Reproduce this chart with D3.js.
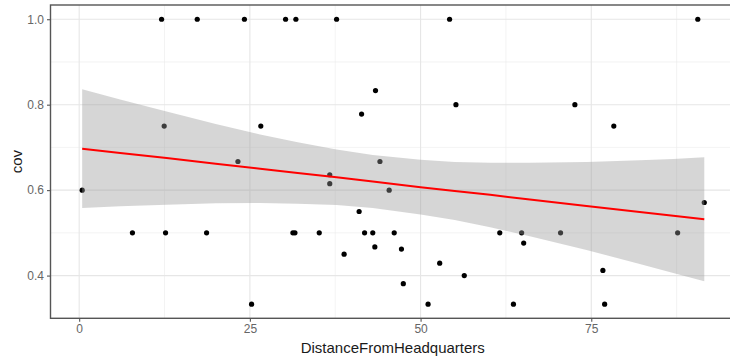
<!DOCTYPE html>
<html>
<head>
<meta charset="utf-8">
<script src="https://cdn.jsdelivr.net/npm/d3@7"></script>
<style>
  html, body { margin: 0; padding: 0; background: #fff; }
  svg { display: block; }
</style>
</head>
<body>
<svg id="chart" width="730" height="362"></svg>
<script>
// ---- data ----
const distance = [0.44, 7.8, 12.07, 12.45, 12.65, 17.29, 18.66, 23.25, 24.2, 25.25,
  26.6, 30.23, 31.3, 31.6, 31.74, 35.16, 36.7, 36.7, 37.7, 38.8,
  41.0, 41.36, 41.8, 43.0, 43.3, 43.4, 44.05, 45.4, 46.14, 47.2,
  47.47, 51.1, 52.8, 54.25, 55.18, 56.4, 61.6, 63.6, 64.8, 65.1,
  70.5, 72.6, 76.7, 76.96, 78.3, 87.65, 90.6, 91.55];
const cov = [0.6, 0.5, 1.0, 0.75, 0.5, 1.0, 0.5, 0.667, 1.0, 0.333,
  0.75, 1.0, 0.5, 0.5, 1.0, 0.5, 0.636, 0.615, 1.0, 0.45,
  0.55, 0.778, 0.5, 0.5, 0.467, 0.833, 0.667, 0.6, 0.5, 0.462,
  0.381, 0.333, 0.429, 1.0, 0.8, 0.4, 0.5, 0.333, 0.5, 0.476,
  0.5, 0.8, 0.412, 0.333, 0.75, 0.5, 1.0, 0.571];

// smoother (lm fit and confidence band)
const smoothX     = [0.44, 6, 12.8, 20, 26.5, 32, 37.7, 43, 50, 55, 60.2, 66, 74.3, 82.1, 87, 91.55];
const smoothFit   = [0.697, 0.687, 0.675, 0.662, 0.650, 0.640, 0.630, 0.620, 0.607, 0.598, 0.589, 0.578, 0.563, 0.549, 0.540, 0.532];
const smoothLower = [0.558, 0.562, 0.566, 0.569, 0.570, 0.568, 0.565, 0.558, 0.543, 0.530, 0.513, 0.492, 0.460, 0.427, 0.406, 0.387];
const smoothUpper = [0.836, 0.812, 0.784, 0.755, 0.730, 0.712, 0.695, 0.682, 0.671, 0.666, 0.664, 0.664, 0.666, 0.670, 0.673, 0.677];

const xTicks = [0, 25, 50, 75];
const xMinor = [12.5, 37.5, 62.5, 87.5];
const yTicks = [0.4, 0.6, 0.8, 1.0];
const yMinor = [0.3, 0.5, 0.7, 0.9];
const xLabel = "DistanceFromHeadquarters";
const yLabel = "cov";

// ---- layout ----
const panel = { left: 50.5, right: 735, top: 5, bottom: 318.3 };
const svg = d3.select("#chart");
const font = "'Liberation Sans', Arial, sans-serif";

const x = d3.scaleLinear().domain([-4.2, 96.05]).range([panel.left, panel.right]);
const y = d3.scaleLinear().domain([0.3, 1.0333]).range([panel.bottom, panel.top]);

// panel background
svg.append("rect")
  .attr("x", panel.left).attr("y", panel.top)
  .attr("width", panel.right - panel.left).attr("height", panel.bottom - panel.top)
  .attr("fill", "#fff");

const grid = svg.append("g");
// minor grid
grid.selectAll(".xm").data(xMinor).join("line")
  .attr("x1", d => x(d)).attr("x2", d => x(d))
  .attr("y1", panel.top).attr("y2", panel.bottom)
  .attr("stroke", "#ebebeb").attr("stroke-width", 0.6);
grid.selectAll(".ym").data(yMinor).join("line")
  .attr("y1", d => y(d)).attr("y2", d => y(d))
  .attr("x1", panel.left).attr("x2", panel.right)
  .attr("stroke", "#ebebeb").attr("stroke-width", 0.6);
// major grid
grid.selectAll(".xg").data(xTicks).join("line")
  .attr("x1", d => x(d)).attr("x2", d => x(d))
  .attr("y1", panel.top).attr("y2", panel.bottom)
  .attr("stroke", "#e6e6e6").attr("stroke-width", 1.1);
grid.selectAll(".yg").data(yTicks).join("line")
  .attr("y1", d => y(d)).attr("y2", d => y(d))
  .attr("x1", panel.left).attr("x2", panel.right)
  .attr("stroke", "#e6e6e6").attr("stroke-width", 1.1);

// points
const pts = distance.map((d, i) => ({ x: d, y: cov[i] }));
svg.append("g").selectAll("circle").data(pts).join("circle")
  .attr("cx", d => x(d.x)).attr("cy", d => y(d.y))
  .attr("r", 2.6).attr("fill", "#000");

// confidence band
const band = smoothX.map((d, i) => ({ x: d, lo: smoothLower[i], hi: smoothUpper[i], fit: smoothFit[i] }));
svg.append("path").datum(band)
  .attr("d", d3.area().x(d => x(d.x)).y0(d => y(d.lo)).y1(d => y(d.hi)))
  .attr("fill", "#999999").attr("fill-opacity", 0.4);

// fit line
svg.append("path").datum(band)
  .attr("d", d3.line().x(d => x(d.x)).y(d => y(d.fit)))
  .attr("fill", "none").attr("stroke", "#ff0000").attr("stroke-width", 2);

// panel border
svg.append("rect")
  .attr("x", panel.left).attr("y", panel.top)
  .attr("width", panel.right - panel.left).attr("height", panel.bottom - panel.top)
  .attr("fill", "none").attr("stroke", "#555").attr("stroke-width", 1.4);

// axes
const xAxis = d3.axisBottom(x).tickValues(xTicks).tickSize(3.5).tickPadding(3).tickFormat(d3.format("d"));
const gx = svg.append("g").attr("transform", `translate(0,${panel.bottom})`).call(xAxis);
gx.select(".domain").remove();
gx.selectAll(".tick line").attr("stroke", "#555").attr("stroke-width", 1.1);
gx.selectAll(".tick text").attr("fill", "#666").attr("font-size", 12).attr("font-family", font);

const yAxis = d3.axisLeft(y).tickValues(yTicks).tickSize(3.5).tickPadding(3).tickFormat(d3.format(".1f"));
const gy = svg.append("g").attr("transform", `translate(${panel.left},0)`).call(yAxis);
gy.select(".domain").remove();
gy.selectAll(".tick line").attr("stroke", "#555").attr("stroke-width", 1.1);
gy.selectAll(".tick text").attr("fill", "#666").attr("font-size", 12).attr("font-family", font);

// axis titles
svg.append("text")
  .attr("x", (panel.left + panel.right) / 2).attr("y", 353)
  .attr("text-anchor", "middle").attr("font-size", 15).attr("font-family", font)
  .attr("fill", "#1a1a1a").text(xLabel);
svg.append("text")
  .attr("transform", `translate(22,${(panel.top + panel.bottom) / 2}) rotate(-90)`)
  .attr("text-anchor", "middle").attr("font-size", 15).attr("font-family", font)
  .attr("fill", "#1a1a1a").text(yLabel);
</script>
</body>
</html>
